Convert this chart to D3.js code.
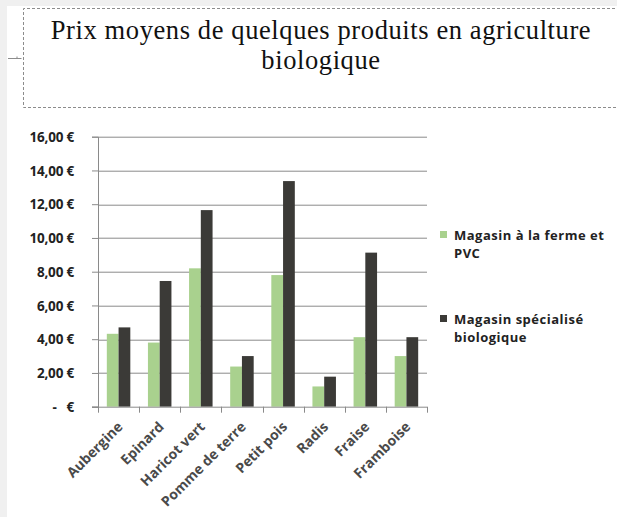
<!DOCTYPE html>
<html>
<head>
<meta charset="utf-8">
<script src="https://cdn.jsdelivr.net/npm/d3@7"></script>
<style>
  body { margin: 0; background: #fff; }
</style>
</head>
<body>
<div id="graph"></div>
<script>
// data
const categories = ["Aubergine", "Epinard", "Haricot vert", "Pomme de terre", "Petit pois", "Radis", "Fraise", "Framboise"];
const seriesNames = ["Magasin à la ferme et PVC", "Magasin spécialisé biologique"];
const fermeValues = [4.32, 3.8, 8.2, 2.38, 7.8, 1.2, 4.12, 3.0];
const bioValues = [4.7, 7.45, 11.65, 3.0, 13.37, 1.78, 9.13, 4.12];
const yTicks = [0, 2, 4, 6, 8, 10, 12, 14, 16];
const colors = ["#a9d18e", "#3b3a37"];

const W = 617, H = 517;
const margin = {top: 136.7, left: 98},
    width = 427 - margin.left,
    height = 406.7 - margin.top;
const sans = "'Open Sans', Lato, sans-serif";

const svg = d3.select("#graph")
  .append("svg")
    .attr("width", W)
    .attr("height", H);

// grey window frame at the top and left
svg.append("rect").attr("width", W).attr("height", H).attr("fill", "#f0f0f0");
svg.append("rect").attr("x", 7).attr("y", 6).attr("width", W).attr("height", H).attr("fill", "#fff");

// dashed title box
svg.append("path")
  .attr("d", "M650,8.5H23.5V107.5H650")
  .attr("fill", "none")
  .attr("stroke", "#8c8c8c")
  .attr("stroke-dasharray", "3,2");
svg.append("path")
  .attr("d", "M8,58.5H21.5M17,56.5V58.5")
  .attr("fill", "none")
  .attr("stroke", "#8c8c8c");

// title
const title = svg.append("text")
  .attr("text-anchor", "middle")
  .attr("font-family", "'Liberation Serif', 'DejaVu Serif', serif")
  .attr("font-size", 26.5)
  .attr("letter-spacing", 0.6)
  .attr("fill", "#111");
title.append("tspan").attr("x", 321).attr("y", 39).text("Prix moyens de quelques produits en agriculture");
title.append("tspan").attr("x", 321).attr("y", 69).text("biologique");

const g = svg.append("g")
  .attr("transform", `translate(${margin.left},${margin.top})`);

const x = d3.scaleBand()
  .domain(categories)
  .range([0, width])
  .padding(0);

const xSub = d3.scaleBand()
  .domain([0, 1])
  .range([0, x.bandwidth()])
  .paddingInner(0)
  .paddingOuter(0.75);

const y = d3.scaleLinear()
  .domain([0, 16])
  .range([height, 0]);

// gridlines
g.append("g")
  .selectAll("line")
  .data(yTicks.filter(d => d > 0))
  .join("line")
    .attr("x1", 0)
    .attr("x2", width)
    .attr("y1", d => Math.round(y(d)) + 0.5)
    .attr("y2", d => Math.round(y(d)) + 0.5)
    .attr("stroke", "#8a8a8a");

// Y axis
const yAxis = g.append("g")
  .call(d3.axisLeft(y)
    .tickValues(yTicks)
    .tickSize(6)
    .tickFormat(d => d === 0 ? "-\u00a0\u00a0\u00a0€" : d3.format(".2f")(d).replace(".", ",") + " €"));
yAxis.select(".domain").attr("stroke", "#8a8a8a");
yAxis.selectAll(".tick line").attr("stroke", "#8a8a8a");
yAxis.selectAll(".tick text")
  .attr("x", -24)
  .attr("dy", "0.35em")
  .attr("font-family", sans)
  .attr("font-size", 13.5)
  .attr("font-weight", "bold")
  .attr("letter-spacing", -0.2)
  .attr("fill", "#222");

// bars
const sets = [fermeValues, bioValues];
sets.forEach((vals, s) => {
  g.append("g")
    .selectAll("rect")
    .data(vals)
    .join("rect")
      .attr("x", (d, i) => x(categories[i]) + xSub(s))
      .attr("y", d => y(d))
      .attr("width", xSub.bandwidth())
      .attr("height", d => height - y(d))
      .attr("fill", colors[s]);
});

// X axis
const xAxis = g.append("g")
  .attr("transform", `translate(0,${height})`);
xAxis.append("line")
  .attr("x1", -6).attr("x2", width)
  .attr("y1", 0.5).attr("y2", 0.5)
  .attr("stroke", "#8a8a8a");
xAxis.selectAll("line.tk")
  .data(d3.range(categories.length + 1))
  .join("line")
    .attr("class", "tk")
    .attr("x1", i => Math.round(i * x.step()) + 0.5)
    .attr("x2", i => Math.round(i * x.step()) + 0.5)
    .attr("y1", 0)
    .attr("y2", 6)
    .attr("stroke", "#8a8a8a");
xAxis.selectAll("text")
  .data(categories)
  .join("text")
    .attr("transform", d => `translate(${x(d) + x.bandwidth() / 2 + 5},${21}) rotate(-45)`)
    .attr("text-anchor", "end")
    .attr("font-family", sans)
    .attr("font-size", 14)
    .attr("font-weight", "bold")
    .attr("fill", "#4a4a4a")
    .text(d => d);

// legend
const legendLines = [["Magasin à la ferme et", "PVC"], ["Magasin spécialisé", "biologique"]];
const legend = svg.append("g");
legendLines.forEach((lines, s) => {
  const ly = s === 0 ? 240 : 324;
  legend.append("rect")
    .attr("x", 440).attr("y", ly - 9)
    .attr("width", 7).attr("height", 7)
    .attr("fill", colors[s]);
  const t = legend.append("text")
    .attr("font-family", sans)
    .attr("font-size", 13)
    .attr("font-weight", "bold")
    .attr("letter-spacing", 0.5)
    .attr("fill", "#222");
  lines.forEach((line, k) => {
    t.append("tspan").attr("x", 454).attr("y", ly + k * 17.5).text(line);
  });
});
</script>
</body>
</html>
